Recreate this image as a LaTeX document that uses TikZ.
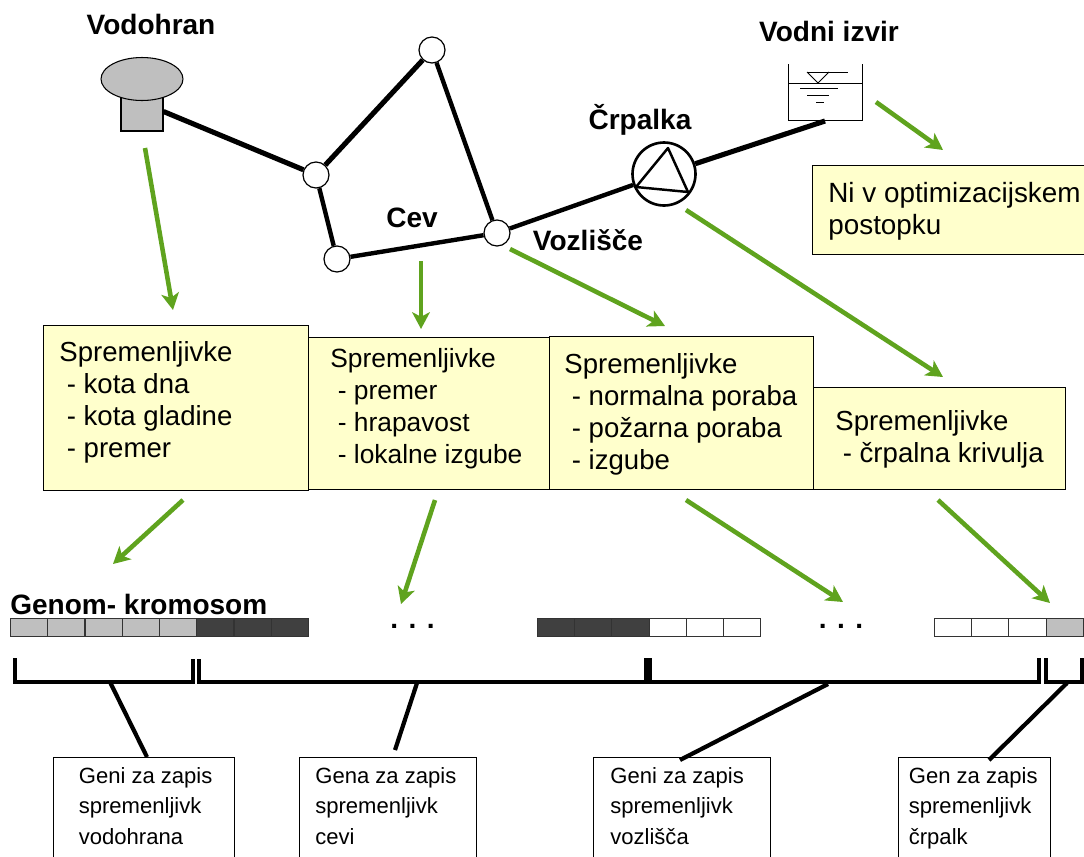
\documentclass[tikz,border=0pt]{standalone}
\usepackage{fontspec}
\setmainfont{Liberation Sans}
\usetikzlibrary{arrows.meta,shapes.geometric}

\definecolor{varyellow}{HTML}{FFFFCC}
\definecolor{arrowgreen}{HTML}{5FA31E}
\definecolor{genegray}{HTML}{BFBFBF}
\definecolor{genedark}{HTML}{404040}

\tikzset{
  title/.style={font={\fontsize{15.95}{18}\selectfont\bfseries}, inner sep=0pt},
  varbox/.style={draw=black, fill=varyellow, line width=.7pt, anchor=north west, inner sep=0pt},
  vartext/.style={anchor=north west, align=left, inner sep=0pt, font={\fontsize{15.7}{18.2}\selectfont}},
  genbox/.style={draw=black, fill=white, line width=.7pt, anchor=north west, inner sep=0pt},
  gentext/.style={anchor=north west, align=left, inner sep=0pt, font={\fontsize{12.55}{17.4}\selectfont}},
  junction/.style={circle, draw=black, fill=white, line width=.7pt, minimum size=.52cm, inner sep=0pt},
  pipe/.style={line width=2.9pt},
  thinpipe/.style={line width=2.5pt},
  arrowgr/.style={draw=arrowgreen, line width=2.6pt, -{Stealth[length=9.5pt, width=10pt, inset=2.5pt]}},
  cell/.style={draw=black!80, line width=.6pt, anchor=north west, inner sep=0pt, minimum width=.744cm, minimum height=.365cm},
  bracket/.style={line width=2.3pt},
  leader/.style={line width=2.4pt},
}

\begin{document}
\begin{tikzpicture}[x=.02cm, y=-.02cm]

\clip [use as bounding box] (0,0) rectangle (1084,856);

\node [title] (vodohran) at (151, 24) {Vodohran};
\node [title] (izvir) at (829, 31) {Vodni izvir};
\node [title] (crpalka) at (640, 120) {Črpalka};
\node [title] (cev) at (412, 218) {Cev};
\node [title] (vozlisce) at (588, 240) {Vozlišče};
\node [title, anchor=west] (genom) at (10, 604) {Genom- kromosom};

\node [draw=black, fill=genegray, line width=.6pt, minimum width=.84cm, minimum height=.78cm, inner sep=0pt] (tank) at (142, 111.5) {};
\node [ellipse, draw=black, fill=genegray, line width=.6pt, minimum width=1.64cm, minimum height=.86cm, inner sep=0pt] (tankhead) at (142, 79) {};

\node [junction] (j1) at (316, 175) {};
\node [junction] (j2) at (432, 50) {};
\node [junction] (j3) at (337, 259) {};
\node [junction] (j4) at (497, 233) {};
\node [circle, draw=black, line width=1.5pt, minimum size=1.26cm, inner sep=0pt] (pump) at (664, 174) {};

\draw [pipe] (tank.east) -- (j1);
\draw [pipe] (j1) -- (j2);
\draw [thinpipe] (j2) -- (j4);
\draw [thinpipe] (j1) -- (j3);
\draw [thinpipe] (j3) -- (j4);
\draw [thinpipe] (j4) -- (pump);

\draw [line width=1.4pt, line join=round] (668, 148) -- (688, 192) -- (636, 187) -- cycle;

\draw [line width=.45pt] (788, 64) -- (788, 120) -- (862, 120) -- (862, 64);
\draw [line width=.45pt] (788, 83) -- (862, 83);
\draw [line width=.45pt] (807, 72) -- (848, 72);
\draw [line width=.45pt] (807, 72) -- (818, 83) -- (829, 72);
\draw [line width=.45pt] (800, 88.5) -- (838, 88.5);
\draw [line width=.45pt] (807, 95) -- (829, 95);
\draw [line width=.45pt] (816, 102) -- (824, 102);

\coordinate (outlet) at (825, 121);
\draw [pipe] (pump) -- (outlet);

\node [varbox, minimum width=5.3cm, minimum height=3.3cm] (var-vodohran) at (43, 325) {};
\node [varbox, minimum width=4.82cm, minimum height=3.04cm] (var-cev) at (308, 337) {};
\node [varbox, minimum width=5.28cm, minimum height=3.06cm] (var-vozlisce) at (549, 336) {};
\node [varbox, minimum width=5.04cm, minimum height=2.04cm] (var-crpalka) at (813, 387) {};
\node [varbox, minimum width=6cm, minimum height=1.78cm] (var-izvir) at (812, 165) {};

\node [vartext] (vartext-vodohran) at (59, 341) {Spremenljivke\\\hspace*{.15cm}- kota dna\\\hspace*{.15cm}- kota gladine\\\hspace*{.15cm}- premer};
\node [vartext, font={\fontsize{15}{18.2}\selectfont}] (vartext-cev) at (330, 348) {Spremenljivke\\\hspace*{.15cm}- premer\\\hspace*{.15cm}- hrapavost\\\hspace*{.15cm}- lokalne izgube};
\node [vartext] (vartext-vozlisce) at (564, 353) {Spremenljivke\\\hspace*{.15cm}- normalna poraba\\\hspace*{.15cm}- požarna poraba\\\hspace*{.15cm}- izgube};
\node [vartext] (vartext-crpalka) at (835, 410) {Spremenljivke\\\hspace*{.15cm}- črpalna krivulja};
\node [vartext, font={\fontsize{15.85}{18.2}\selectfont}] (vartext-izvir) at (828, 182) {Ni v optimizacijskem\\postopku};

\coordinate (a1s) at (145, 148);
\coordinate (a1e) at (173, 310);
\coordinate (a2s) at (421, 261);
\coordinate (a2e) at (421, 329);
\coordinate (a3s) at (510, 249);
\coordinate (a3e) at (665, 326);
\coordinate (a4s) at (686, 210);
\coordinate (a4e) at (943, 377);
\coordinate (a5s) at (876, 102);
\coordinate (a5e) at (943, 150);
\coordinate (a6s) at (183, 500);
\coordinate (a6e) at (113, 564);
\coordinate (a7s) at (435, 500);
\coordinate (a7e) at (401, 604);
\coordinate (a8s) at (686, 500);
\coordinate (a8e) at (843, 602);
\coordinate (a9s) at (938, 500);
\coordinate (a9e) at (1050, 603);

\draw [arrowgr] (a1s) -- (a1e);
\draw [arrowgr] (a2s) -- (a2e);
\draw [arrowgr] (a3s) -- (a3e);
\draw [arrowgr] (a4s) -- (a4e);
\draw [arrowgr] (a5s) -- (a5e);
\draw [arrowgr] (a6s) -- (a6e);
\draw [arrowgr] (a7s) -- (a7e);
\draw [arrowgr] (a8s) -- (a8e);
\draw [arrowgr] (a9s) -- (a9e);

\node [cell, fill=genegray] (c1) at (10, 618) {};
\node [cell, fill=genegray] (c2) at (47.3, 618) {};
\node [cell, fill=genegray] (c3) at (84.5, 618) {};
\node [cell, fill=genegray] (c4) at (121.8, 618) {};
\node [cell, fill=genegray] (c5) at (159, 618) {};
\node [cell, fill=genedark] (c6) at (196.3, 618) {};
\node [cell, fill=genedark] (c7) at (233.5, 618) {};
\node [cell, fill=genedark] (c8) at (270.8, 618) {};

\node [cell, fill=genedark] (d1) at (537, 618) {};
\node [cell, fill=genedark] (d2) at (574.2, 618) {};
\node [cell, fill=genedark] (d3) at (611.4, 618) {};
\node [cell, fill=white] (d4) at (648.6, 618) {};
\node [cell, fill=white] (d5) at (685.8, 618) {};
\node [cell, fill=white] (d6) at (723, 618) {};

\node [cell, fill=white] (e1) at (934, 618) {};
\node [cell, fill=white] (e2) at (971.2, 618) {};
\node [cell, fill=white] (e3) at (1008.4, 618) {};
\node [cell, fill=genegray] (e4) at (1045.6, 618) {};

\node [title, anchor=base] (dots1) at (412.5, 628.5) {. . .};
\node [title, anchor=base] (dots2) at (841, 628.5) {. . .};

\draw [bracket] (15, 658) -- (15, 682) -- (193, 682) -- (193, 659);
\draw [bracket] (199, 659) -- (199, 682) -- (646, 682) -- (646, 658);
\draw [bracket] (650, 658) -- (650, 682) -- (1039, 682) -- (1039, 658);
\draw [bracket] (1046, 658) -- (1046, 682) -- (1082, 682) -- (1082, 658);

\node [genbox, minimum width=3.62cm, minimum height=3cm] (gen-vodohran) at (53, 757) {};
\node [genbox, minimum width=3.54cm, minimum height=3cm] (gen-cev) at (299, 757) {};
\node [genbox, minimum width=3.54cm, minimum height=3cm] (gen-vozlisce) at (593, 757) {};
\node [genbox, minimum width=3.04cm, minimum height=3cm] (gen-crpalka) at (898, 757) {};

\node [gentext] (gentext-vodohran) at (78.5, 767) {Geni za zapis\\spremenljivk\\vodohrana};
\node [gentext] (gentext-cev) at (315, 767) {Gena za zapis\\spremenljivk\\cevi};
\node [gentext] (gentext-vozlisce) at (610, 767) {Geni za zapis\\spremenljivk\\vozlišča};
\node [gentext] (gentext-crpalka) at (908.5, 767) {Gen za zapis\\spremenljivk\\črpalk};

\coordinate (l1s) at (110, 682);
\coordinate (l1e) at (147, 757);
\coordinate (l2s) at (417, 683);
\coordinate (l2e) at (395, 750);
\coordinate (l3s) at (828, 684);
\coordinate (l3e) at (680, 760);
\coordinate (l4s) at (1067, 683);
\coordinate (l4e) at (989, 760);

\draw [leader] (l1s) -- (l1e);
\draw [leader] (l2s) -- (l2e);
\draw [leader] (l3s) -- (l3e);
\draw [leader] (l4s) -- (l4e);

\end{tikzpicture}
\end{document}
